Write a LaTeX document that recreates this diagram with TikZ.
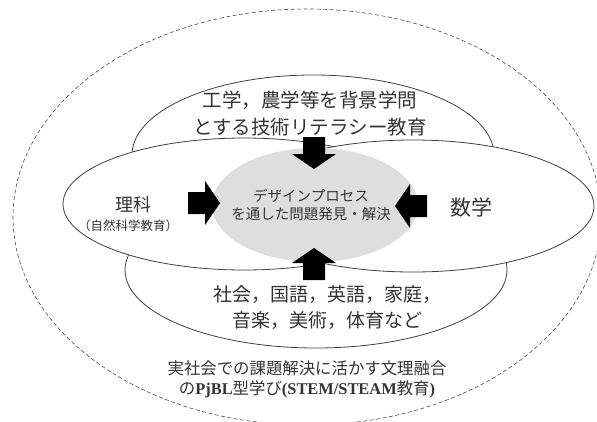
\documentclass[tikz,border=0pt]{standalone}
\usepackage{fontspec}
\setmainfont{Liberation Serif}
\newfontfamily\jp{Noto Sans CJK JP}
\usetikzlibrary{shapes.geometric}
\begin{document}
\begin{tikzpicture}[x=1pt,y=-1pt,
  blob/.style={ellipse, draw=black!75, line width=0.8pt, fill=white, inner sep=0pt},
  core/.style={ellipse, fill=black!13, inner sep=0pt},
  lbl/.style={inner sep=0pt, align=center, text=black!80},
  blockarrow/.pic={\fill[black] (-32,-11) -- (-15,-11) -- (-15,-22) -- (0,0) -- (-15,22) -- (-15,11) -- (-32,11) -- cycle;}
]
\useasboundingbox (0,0) rectangle (597,421);
\clip (0,0) rectangle (597,421);
% outer dashed region
\node[ellipse, draw=black!70, dash pattern=on 4pt off 2.5pt, line width=0.6pt,
      minimum width=588pt, minimum height=416pt, inner sep=0pt] (outer) at (307,217) {};
% subject ellipses
\node[blob, minimum width=362pt, minimum height=160pt] (upper) at (313,155) {};
\node[blob, minimum width=382pt, minimum height=156pt] (lower) at (316,270) {};
\node[blob, minimum width=362pt, minimum height=132pt] (leftE) at (244,204) {};
\node[blob, minimum width=362pt, minimum height=132pt] (rightE) at (413,206) {};
\node[core, minimum width=206pt, minimum height=114pt] (center) at (315,205) {};
% block arrows
\coordinate (tipTop) at (314,169);
\coordinate (tipBottom) at (314,248);
\coordinate (tipLeft) at (220,203);
\coordinate (tipRight) at (395,206);
\pic[rotate=-90] at (tipTop) {blockarrow};
\pic[rotate=90] at (tipBottom) {blockarrow};
\pic at (tipLeft) {blockarrow};
\pic[rotate=180] at (tipRight) {blockarrow};
% labels
\node[lbl, font=\jp\fontsize{19.5}{26.7}\selectfont] (upperT) at (310,113.5)
  {工学，農学等を背景学問\\とする技術リテラシー教育};
\node[lbl, font=\jp\fontsize{19}{26}\selectfont] (lowerT) at (327,308)
  {社会，国語，英語，家庭，\\音楽，美術，体育など};
\node[lbl, font=\jp\fontsize{14.5}{18}\selectfont] (centerT) at (311,205)
  {デザインプロセス\\を通した問題発見・解決};
\node[lbl, font=\jp\fontsize{18}{20}\selectfont] (sci) at (133,205) {理科};
\node[lbl, font=\jp\fontsize{12.5}{14}\selectfont] (sciSub) at (128,226) {（自然科学教育）};
\node[lbl, font=\jp\fontsize{21}{22}\selectfont] (math) at (471,207) {数学};
\node[lbl, font=\jp\fontsize{16.4}{20}\selectfont] (outerT) at (307,379)
  {実社会での課題解決に活かす文理融合\\の{\rmfamily\bfseries PjBL}型学び{\rmfamily\bfseries (STEM/STEAM}教育{\rmfamily\bfseries )}};
\end{tikzpicture}
\end{document}
